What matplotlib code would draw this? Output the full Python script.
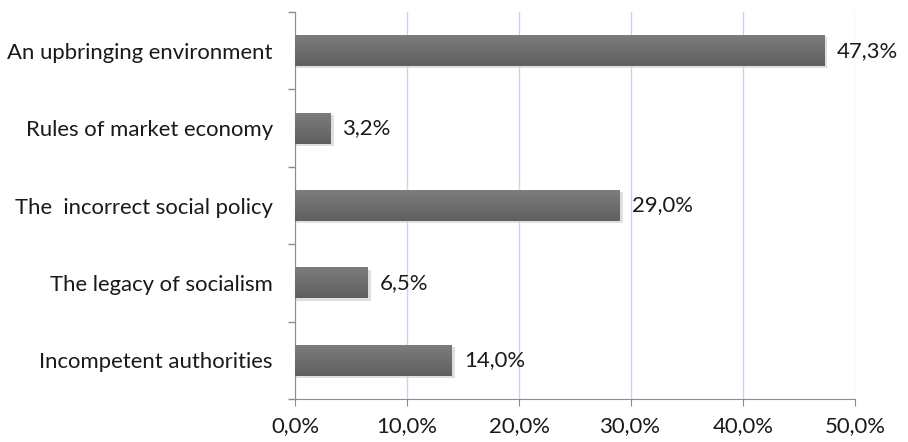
import numpy as np
import matplotlib.pyplot as plt
from matplotlib.colors import LinearSegmentedColormap
from matplotlib.ticker import FixedLocator, FuncFormatter

categories = ['An upbringing environment', 'Rules of market economy',
              'The  incorrect social policy', 'The legacy of socialism',
              'Incompetent authorities']
values = [47.3, 3.2, 29.0, 6.5, 14.0]
x_ticks = [0, 10, 20, 30, 40, 50]

plt.rcParams['font.family'] = ['Lato', 'DejaVu Sans']
FS = 15.9

fig = plt.figure(figsize=(9.08, 4.42), dpi=100)
ax = fig.add_axes([0.325, 0.097, 0.6165, 0.876])

n = len(categories)
ypos = np.arange(n)[::-1]
h = 0.4

# vertical gradient for the bars: lighter on top, darker below
grad = np.linspace(0, 1, 64).reshape(-1, 1)
cmap = LinearSegmentedColormap.from_list('bar', ['#7d7d7d', '#5f5f5f'])
for y, v in zip(ypos, values):
    # soft shadow under the bar
    ax.barh(y - 0.03, v + 0.2, height=h, left=0.05, color='#d2d2d2',
            alpha=0.7, zorder=2, linewidth=0)
    ax.imshow(grad, cmap=cmap, extent=[0, v, y - h / 2, y + h / 2],
              aspect='auto', zorder=3, origin='upper')
    ax.text(v + 1.1, y, f'{v:.1f}%'.replace('.', ','), va='center', ha='left',
            fontsize=FS, color='#1a1a1a', zorder=4)

ax.set_xlim(0, 50)
ax.set_ylim(-0.5, n - 0.5)
ax.set_xticks(x_ticks)
ax.xaxis.set_major_formatter(FuncFormatter(lambda v, p: f'{v:.1f}%'.replace('.', ',')))
ax.set_yticks(ypos)
ax.set_yticklabels(categories)
ax.yaxis.set_minor_locator(FixedLocator(np.arange(-0.5, n, 1)))
ax.tick_params(axis='y', which='major', length=0, pad=16, labelsize=FS,
               labelcolor='#1a1a1a')
ax.tick_params(axis='y', which='minor', length=5, color='#8c8c8c', width=1)
ax.tick_params(axis='x', length=5, color='#8c8c8c', labelsize=FS,
               labelcolor='#1a1a1a', pad=7)

ax.grid(axis='x', color='#c6d5ea', linewidth=1, zorder=0)
ax.set_axisbelow(True)
for s in ['top', 'right']:
    ax.spines[s].set_visible(False)
for s in ['left', 'bottom']:
    ax.spines[s].set_color('#8c8c8c')

plt.savefig('out.png', dpi=100)
